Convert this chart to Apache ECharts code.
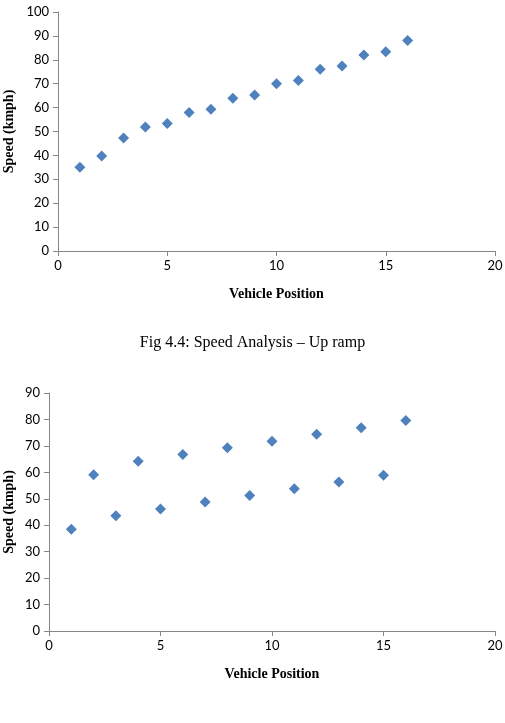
<!DOCTYPE html>
<html>
<head>
<meta charset="utf-8">
<script src="https://cdn.jsdelivr.net/npm/echarts@6/dist/echarts.min.js"></script>
<style>
html,body{margin:0;padding:0;background:#fff;}
#main{width:505px;height:723px;}
</style>
</head>
<body>
<div id="main"></div>
<script>
var positions = [1,2,3,4,5,6,7,8,9,10,11,12,13,14,15,16];
var upSpeed = [35.0,39.7,47.3,51.9,53.3,57.9,59.3,63.9,65.3,70.0,71.3,76.0,77.4,82.0,83.4,88.1];
var downSpeed = [38.5,59.1,43.6,64.2,46.1,66.7,48.8,69.3,51.2,71.8,53.8,74.4,56.3,76.9,58.9,79.6];
var caption = 'Fig 4.4: Speed Analysis \u2013 Up ramp';

function pairs(xs, ys){
    var out = [];
    for (var i = 0; i < xs.length; i++) out.push([xs[i], ys[i]]);
    return out;
}

var axisCol = '#868686';
var tickFont = {color:'#000', fontSize:13, fontFamily:'Lato'};
var nameFont = {color:'#000', fontSize:14, fontWeight:'bold', fontFamily:'Liberation Serif'};

function xAx(idx){
    return {
        gridIndex: idx, type:'value', min:0, max:20, interval:5,
        name:'Vehicle Position', nameLocation:'middle', nameGap:36, nameTextStyle:nameFont,
        nameMoveOverlap:false,
        axisLine:{lineStyle:{color:axisCol}}, axisTick:{lineStyle:{color:axisCol}, length:5},
        axisLabel:Object.assign({margin:8}, tickFont), splitLine:{show:false}
    };
}
function yAx(idx, max, gap){
    return {
        gridIndex: idx, type:'value', min:0, max:max, interval:10,
        name:'Speed (kmph)', nameLocation:'middle', nameGap:gap, nameTextStyle:nameFont,
        nameMoveOverlap:false,
        axisLine:{show:true, lineStyle:{color:axisCol}}, axisTick:{show:true, lineStyle:{color:axisCol}, length:5},
        axisLabel:Object.assign({margin:9}, tickFont), splitLine:{show:false}
    };
}

var chart = echarts.init(document.getElementById('main'));
chart.setOption({
    animation:false,
    grid:[
        {left:58, top:12, width:437, height:239, outerBoundsMode:'none', containLabel:false},
        {left:49, top:393, width:446, height:238, outerBoundsMode:'none', containLabel:false}
    ],
    xAxis:[xAx(0), xAx(1)],
    yAxis:[yAx(0, 100, 42), yAx(1, 90, 33)],
    graphic:[{
        type:'text', left:'center', top:335,
        style:{text:caption, fill:'#000', font:'16px "Liberation Serif"'}
    }],
    series:[
        {type:'scatter', xAxisIndex:0, yAxisIndex:0, symbol:'diamond', symbolSize:11,
         itemStyle:{color:'#4F81BD', opacity:1}, data:pairs(positions, upSpeed)},
        {type:'scatter', xAxisIndex:1, yAxisIndex:1, symbol:'diamond', symbolSize:11,
         itemStyle:{color:'#4F81BD', opacity:1}, data:pairs(positions, downSpeed)}
    ]
});
</script>
</body>
</html>
